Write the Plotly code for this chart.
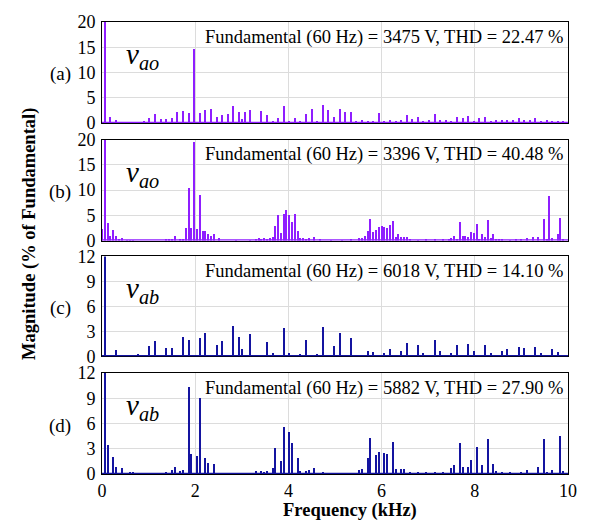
import plotly.graph_objects as go
from plotly.subplots import make_subplots

F0_KHZ = 0.06  # fundamental 60 Hz

# Panel (a) v_ao
a_orders = [1, 3, 5, 7, 13, 15, 17, 19, 21, 23, 25, 27, 29, 31, 33, 35, 37, 39, 41, 43, 45, 47, 49, 50, 51, 53, 55,
            57, 59, 61, 63, 65, 67, 69, 71, 73, 75, 77, 79, 81, 83, 85, 87, 89, 91, 93, 95, 97, 99, 101, 103, 105,
            107, 109, 111, 113, 115, 117, 119, 121, 123, 125, 127, 129, 131, 133, 135, 137, 139, 141, 143, 145, 147,
            149, 151, 153, 155, 157, 159, 161, 163, 165]
a_mag = [100, 1.25, 0.6, 0.1, 0.15, 0.3, 1.0, 1.8, 0.8, 0.8, 1.0, 2.2, 2.3, 2.0, 14.7, 2.0, 2.6, 2.7, 1.25, 1.6, 1.8,
         3.4, 2.2, 0.7, 2.2, 2.6, 0.15, 2.4, 1.6, 0.3, 1.0, 3.3, 0.4, 1.0, 0.3, 1.8, 2.75, 0.3, 3.5, 2.6, 1.1, 2.7,
         2.1, 2.1, 0.2, 0.6, 0.45, 0.45, 2.0, 0.45, 0.65, 0.45, 0.6, 1.6, 0.8, 1.1, 0.3, 0.6, 1.8, 0.6, 0.6, 0.45,
         1.1, 0.9, 1.3, 0.45, 0.9, 1.1, 0.3, 0.65, 0.6, 0.65, 0.65, 0.9, 0.65, 0.6, 0.9, 0.3, 0.65, 0.45, 0.45, 0.45]

# Panel (b) v_ao
b_orders = [0, 1, 2, 3, 4, 5, 6, 7, 9, 10, 11, 23, 24, 25, 26, 28, 29, 30, 31, 32, 33, 34, 35, 36, 37, 38, 39, 40,
            42, 48, 53, 55, 56, 57, 58, 59, 60, 61, 62, 63, 64, 65, 66, 67, 68, 69, 70, 71, 72, 73, 74, 76, 78, 82,
            86, 89, 92, 93, 94, 95, 96, 97, 98, 99, 100, 101, 102, 103, 104, 105, 106, 107, 108, 109, 110, 113, 116,
            119, 122, 124, 125, 126, 127, 128, 129, 130, 131, 132, 133, 134, 135, 136, 137, 138, 139, 140, 141, 142,
            143, 146, 148, 150, 152, 154, 156, 158, 159, 160, 161, 163, 164, 165]
b_mag = [2.3, 100, 3.5, 1.0, 2.1, 0.9, 0.4, 0.6, 0.15, 0.15, 0.1, 0.2, 0.3, 0.4, 0.9, 0.3, 0.3, 2.5, 10.45, 2.5,
         19.6, 2.3, 9.15, 2.0, 2.0, 1.3, 1.0, 1.3, 0.5, 0.1, 0.15, 0.2, 0.5, 0.3, 0.5, 0.3, 0.5, 0.7, 3.0, 5.1, 1.6,
         5.4, 6.2, 5.2, 3.7, 5.4, 1.9, 0.5, 0.5, 0.3, 0.5, 0.7, 0.2, 0.1, 0.15, 0.2, 0.5, 0.5, 1.0, 2.0, 4.3, 1.8,
         2.1, 2.7, 3.0, 2.7, 2.6, 3.1, 3.9, 0.8, 1.3, 0.8, 0.8, 0.8, 0.3, 0.15, 0.2, 0.2, 0.3, 0.2, 0.5, 1.0, 0.3,
         3.7, 0.9, 1.0, 0.85, 1.7, 1.5, 3.3, 0.3, 1.3, 0.85, 4.2, 0.5, 1.3, 0.3, 0.3, 0.2, 0.15, 0.2, 0.2, 0.5,
         0.7, 0.85, 4.3, 0.2, 8.9, 0.5, 1.3, 4.6, 0.3]

# Panel (c) v_ab
c_orders = [1, 5, 11, 13, 17, 19, 23, 25, 29, 31, 35, 37, 41, 43, 47, 49, 50, 53, 59, 61, 65, 67, 71, 73, 77, 79,
            83, 85, 89, 91, 95, 97, 101, 103, 107, 109, 113, 115, 119, 121, 125, 127, 131, 133, 137, 139, 143, 145,
            149, 151, 155, 157, 161, 163]
c_mag = [100, 0.7, 0.1, 0.2, 1.2, 1.8, 1.0, 1.0, 2.3, 1.95, 2.1, 2.7, 1.3, 1.75, 3.55, 2.25, 0.8, 2.6, 1.65, 0.3,
         3.4, 0.4, 0.2, 1.9, 0.2, 3.5, 1.2, 2.7, 2.1, 0.1, 0.6, 0.5, 0.4, 0.8, 0.6, 1.6, 1.3, 0.3, 1.85, 0.6, 0.3,
         1.3, 1.45, 0.6, 1.3, 0.3, 0.6, 0.8, 1.05, 1.0, 1.05, 0.4, 0.8, 0.5]

# Panel (d) v_ab
d_orders = [1, 2, 4, 5, 7, 10, 11, 13, 23, 25, 26, 28, 29, 31, 32, 34, 35, 37, 38, 40, 44, 48, 53, 55, 57, 58, 59,
            61, 62, 64, 65, 67, 68, 70, 71, 73, 74, 76, 79, 83, 88, 92, 93, 95, 96, 98, 99, 101, 102, 104, 105, 107,
            108, 110, 113, 116, 119, 122, 125, 126, 128, 129, 131, 132, 134, 136, 138, 140, 141, 143, 146, 150, 152,
            156, 158, 159, 161, 164, 165]
d_mag = [100, 3.4, 2.05, 0.85, 0.65, 0.15, 0.15, 0.1, 0.2, 0.45, 0.8, 0.35, 0.45, 10.3, 2.35, 2.15, 9.0, 1.9, 1.3,
         1.2, 0.1, 0.1, 0.1, 0.3, 0.35, 0.2, 0.3, 0.75, 3.1, 1.55, 5.55, 5.0, 3.7, 1.85, 0.4, 0.3, 0.45, 0.65, 0.15,
         0.1, 0.1, 0.45, 0.55, 1.85, 4.3, 2.2, 2.6, 2.5, 2.4, 3.85, 0.55, 0.55, 0.55, 0.2, 0.15, 0.15, 0.2, 0.2,
         0.65, 1.05, 3.7, 0.8, 0.85, 1.7, 3.25, 1.05, 4.1, 1.2, 0.3, 0.2, 0.15, 0.2, 0.45, 0.8, 4.1, 0.15, 0.45,
         4.45, 0.35]

panel_labels = ["(a)", "(b)", "(c)", "(d)"]
voltage_labels = ["ao", "ao", "ab", "ab"]
fund_volts = [3475, 3396, 6018, 5882]
thd_vals = ["22.47", "40.48", "14.10", "27.90"]
y_max = [20, 20, 12, 12]
y_ticks = [[0, 5, 10, 15, 20], [0, 5, 10, 15, 20], [0, 3, 6, 9, 12], [0, 3, 6, 9, 12]]
x_ticks = [0, 2, 4, 6, 8, 10]

PURPLE = "#8f1eff"
BLUE = "#1414a0"
colors = [PURPLE, PURPLE, BLUE, BLUE]
FONT = "Liberation Serif"

series = [(a_orders, a_mag), (b_orders, b_mag), (c_orders, c_mag), (d_orders, d_mag)]

fig = make_subplots(rows=4, cols=1)

domains = [[0.7768, 1.0], [0.5164, 0.7396], [0.2604, 0.4814], [0.0, 0.2232]]

for i, (orders, mags) in enumerate(series):
    freqs = [h * F0_KHZ for h in orders]
    fig.add_trace(go.Bar(x=freqs, y=mags, width=0.024, marker=dict(color=colors[i], line=dict(width=0)),
                         showlegend=False, hoverinfo="x+y"), row=i + 1, col=1)

for i in range(4):
    ax = "" if i == 0 else str(i + 1)
    fig.layout["xaxis" + ax].update(
        range=[0, 10], tickvals=x_ticks, showticklabels=(i == 3), showgrid=True, gridcolor="#dcdcdc",
        gridwidth=1, showline=True, mirror=True, linecolor="black", linewidth=1, ticks="", zeroline=False,
        tickfont=dict(family=FONT, size=18, color="black"))
    fig.layout["yaxis" + ax].update(
        domain=domains[i], range=[0, y_max[i]], tickvals=y_ticks[i], showgrid=True, gridcolor="#dcdcdc",
        gridwidth=1, showline=True, mirror=True, linecolor="black", linewidth=1, ticks="", zeroline=False,
        tickfont=dict(family=FONT, size=18, color="black"), ticklabelstandoff=2)
    # coloured baseline
    fig.add_shape(type="line", xref="x" + ax + " domain", yref="y" + ax, x0=0, x1=1, y0=0, y1=0,
                  line=dict(color=colors[i], width=2.5), layer="above")
    fig.add_annotation(xref="x" + ax + " domain", yref="y" + ax + " domain", x=0.9935, y=0.85,
                       xanchor="right", yanchor="middle", showarrow=False,
                       text=f"Fundamental (60 Hz) = {fund_volts[i]} V, THD = {thd_vals[i]} %",
                       font=dict(family=FONT, size=18.5, color="black"))
    fig.add_annotation(xref="x" + ax + " domain", yref="y" + ax + " domain", x=0.048, y=0.66,
                       xanchor="left", yanchor="middle", showarrow=False,
                       text=f"<i>v</i><sub><i>{voltage_labels[i]}</i></sub>",
                       font=dict(family=FONT, size=29, color="black"))
    fig.add_annotation(xref="paper", yref="y" + ax + " domain", x=-0.09, y=0.48,
                       xanchor="center", yanchor="middle", showarrow=False, text=panel_labels[i],
                       font=dict(family=FONT, size=19, color="black"))

fig.add_annotation(xref="paper", yref="paper", x=-0.1557, y=0.532, textangle=-90, showarrow=False,
                   xanchor="center", yanchor="middle", text="<b>Magnitude (% of Fundamental)</b>",
                   font=dict(family=FONT, size=18.5, color="black"))
fig.add_annotation(xref="paper", yref="paper", x=0.533, y=-0.081, showarrow=False,
                   xanchor="center", yanchor="middle", text="<b>Frequency (kHz)</b>",
                   font=dict(family=FONT, size=18.5, color="black"))

fig.update_layout(width=589, height=522, margin=dict(l=102, r=18, t=17, b=48),
                  paper_bgcolor="white", plot_bgcolor="white", bargap=0, barmode="overlay")

fig.write_html("out.html")
